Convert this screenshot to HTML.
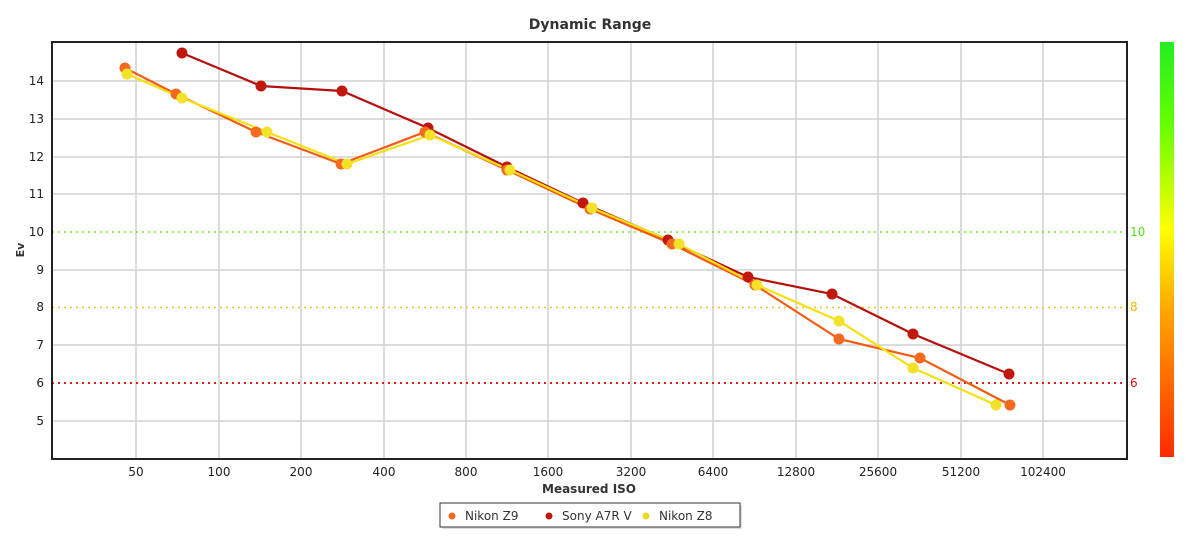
<!DOCTYPE html>
<html><head><meta charset="utf-8"><style>
html,body{margin:0;padding:0;background:#fff;}
svg{display:block;font-family:"DejaVu Sans","Liberation Sans",sans-serif;}
</style></head><body>
<svg width="1200" height="540" viewBox="0 0 1200 540">
<defs>
<linearGradient id="cb" x1="0" y1="0" x2="0" y2="1">
<stop offset="0" stop-color="#22ee22"/>
<stop offset="0.2" stop-color="#66ff00"/>
<stop offset="0.45" stop-color="#ffff00"/>
<stop offset="0.65" stop-color="#ffa500"/>
<stop offset="1" stop-color="#ff2a00"/>
</linearGradient>
</defs>
<text x="590" y="29" text-anchor="middle" font-size="14" font-weight="bold" fill="#333">Dynamic Range</text>
<g stroke="#d0d0d0" stroke-width="1.5">
<line x1="52" x2="1127" y1="81" y2="81"/><line x1="52" x2="1127" y1="119" y2="119"/>
<line x1="52" x2="1127" y1="157" y2="157"/><line x1="52" x2="1127" y1="194" y2="194"/>
<line x1="52" x2="1127" y1="270" y2="270"/><line x1="52" x2="1127" y1="345" y2="345"/>
<line x1="52" x2="1127" y1="421" y2="421"/>
<line y1="42" y2="459" x1="136" x2="136"/><line y1="42" y2="459" x1="219" x2="219"/>
<line y1="42" y2="459" x1="301" x2="301"/><line y1="42" y2="459" x1="384" x2="384"/>
<line y1="42" y2="459" x1="466" x2="466"/><line y1="42" y2="459" x1="548" x2="548"/>
<line y1="42" y2="459" x1="631" x2="631"/><line y1="42" y2="459" x1="713" x2="713"/>
<line y1="42" y2="459" x1="796" x2="796"/><line y1="42" y2="459" x1="878" x2="878"/>
<line y1="42" y2="459" x1="961" x2="961"/><line y1="42" y2="459" x1="1043" x2="1043"/>
</g>
<line x1="52" x2="1127" y1="232" y2="232" stroke="#66ee22" stroke-width="1.5" stroke-dasharray="2,4"/>
<line x1="52" x2="1127" y1="307.5" y2="307.5" stroke="#f5c020" stroke-width="1.5" stroke-dasharray="2,4"/>
<line x1="52" x2="1127" y1="383" y2="383" stroke="#d92020" stroke-width="2" stroke-dasharray="2,4"/>
<rect x="52" y="42" width="1075" height="417" fill="none" stroke="#222" stroke-width="2"/>
<g font-size="12" fill="#222" text-anchor="end">
<text x="44" y="85">14</text><text x="44" y="123">13</text><text x="44" y="161">12</text>
<text x="44" y="198">11</text><text x="44" y="236">10</text><text x="44" y="274">9</text>
<text x="44" y="311">8</text><text x="44" y="349">7</text><text x="44" y="387">6</text><text x="44" y="425">5</text>
</g>
<text x="24" y="250" font-size="11" font-weight="bold" fill="#333" text-anchor="middle" transform="rotate(-90 24 250)">Ev</text>
<g font-size="12" fill="#222" text-anchor="middle">
<text x="136" y="476">50</text><text x="219" y="476">100</text><text x="301" y="476">200</text>
<text x="384" y="476">400</text><text x="466" y="476">800</text><text x="548" y="476">1600</text>
<text x="631" y="476">3200</text><text x="713" y="476">6400</text><text x="796" y="476">12800</text>
<text x="878" y="476">25600</text><text x="961" y="476">51200</text><text x="1043" y="476">102400</text>
</g>
<text x="589" y="493" font-size="12" font-weight="bold" fill="#333" text-anchor="middle">Measured ISO</text>
<g font-size="12" text-anchor="start">
<text x="1130" y="236" fill="#55dd22">10</text>
<text x="1130" y="311" fill="#f5b800">8</text>
<text x="1130" y="387" fill="#dd1111">6</text>
</g>
<rect x="1160" y="42" width="14" height="415" fill="url(#cb)"/>
<g fill="none" stroke-width="2.2">
<polyline stroke="#b5100c" points="182,53 261,86 342,91 428,128 507,167 583,203 668,240 748,277 832,294 913,334 1009,374"/>
<polyline stroke="#f55a12" points="125,68 176,94 256,132 341,164 425,132 507,170 590,209 672,244 755,285 839,339 920,358 1010,405"/>
<polyline stroke="#f5e010" points="127,74 182,98 267,132 347,164 430,135 510,170 592,208 679,244 757,285 839,321 913,368 996,405"/>
</g>
<g fill="#c0180f">
<circle cx="182" cy="53" r="5.5"/><circle cx="261" cy="86" r="5.5"/><circle cx="342" cy="91" r="5.5"/><circle cx="428" cy="128" r="5.5"/><circle cx="507" cy="167" r="5.5"/><circle cx="583" cy="203" r="5.5"/><circle cx="668" cy="240" r="5.5"/><circle cx="748" cy="277" r="5.5"/><circle cx="832" cy="294" r="5.5"/><circle cx="913" cy="334" r="5.5"/><circle cx="1009" cy="374" r="5.5"/>
</g>
<g fill="#f56a20">
<circle cx="125" cy="68" r="5.5"/><circle cx="176" cy="94" r="5.5"/><circle cx="256" cy="132" r="5.5"/><circle cx="341" cy="164" r="5.5"/><circle cx="425" cy="132" r="5.5"/><circle cx="507" cy="170" r="5.5"/><circle cx="590" cy="209" r="5.5"/><circle cx="672" cy="244" r="5.5"/><circle cx="755" cy="285" r="5.5"/><circle cx="839" cy="339" r="5.5"/><circle cx="920" cy="358" r="5.5"/><circle cx="1010" cy="405" r="5.5"/>
</g>
<g fill="#f2e22a">
<circle cx="127" cy="74" r="5.5"/><circle cx="182" cy="98" r="5.5"/><circle cx="267" cy="132" r="5.5"/><circle cx="347" cy="164" r="5.5"/><circle cx="430" cy="135" r="5.5"/><circle cx="510" cy="170" r="5.5"/><circle cx="592" cy="208" r="5.5"/><circle cx="679" cy="244" r="5.5"/><circle cx="757" cy="285" r="5.5"/><circle cx="839" cy="321" r="5.5"/><circle cx="913" cy="368" r="5.5"/><circle cx="996" cy="405" r="5.5"/>
</g>
<rect x="442" y="505" width="300" height="24" fill="#ddd"/>
<rect x="440" y="503" width="300" height="24" fill="#fff" stroke="#333" stroke-width="1"/>
<g font-size="12" fill="#333">
<circle cx="452" cy="516" r="3.5" fill="#f56a20"/><text x="465" y="520">Nikon Z9</text>
<circle cx="549" cy="516" r="3.5" fill="#c0180f"/><text x="562" y="520">Sony A7R V</text>
<circle cx="646" cy="516" r="3.5" fill="#e8d820"/><text x="659" y="520">Nikon Z8</text>
</g>
</svg>
</body></html>
